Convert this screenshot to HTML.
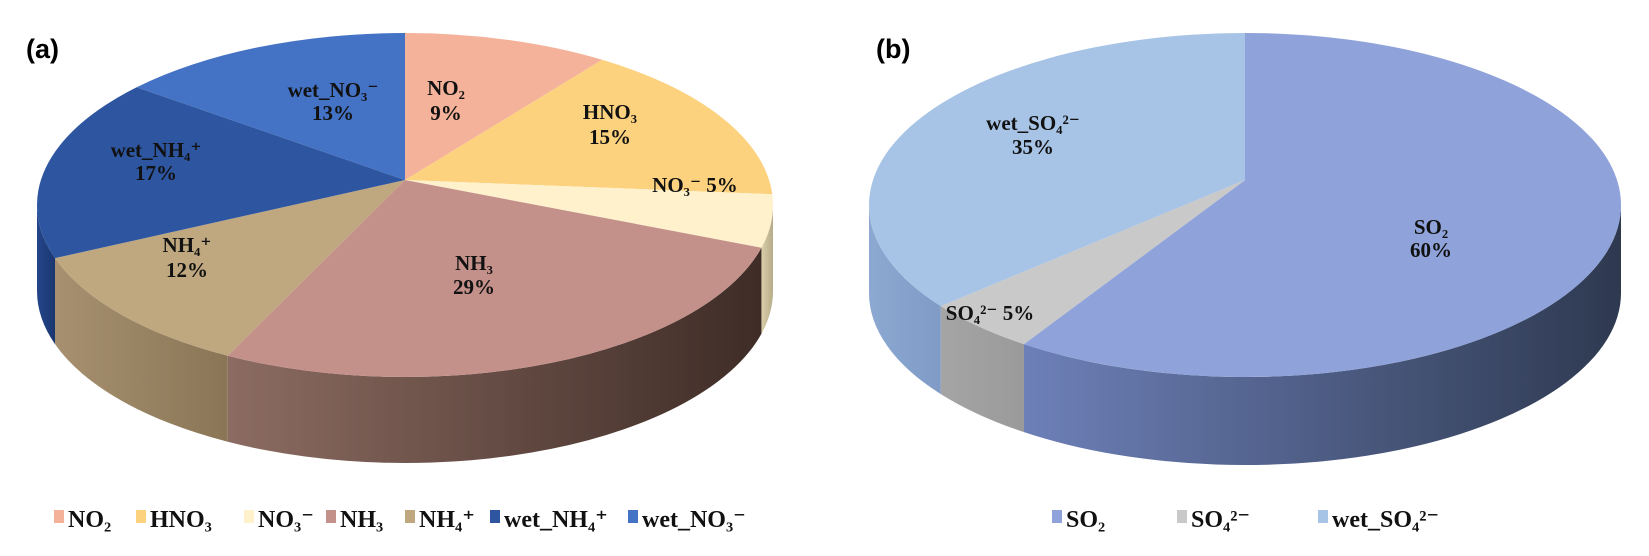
<!DOCTYPE html>
<html><head><meta charset="utf-8"><style>
html,body{margin:0;padding:0;background:#fff;}
svg{display:block;}
.lbl{font-family:"Liberation Serif","DejaVu Serif",serif;font-weight:bold;font-size:21px;fill:#111;text-anchor:middle;}
.leg{font-family:"Liberation Serif","DejaVu Serif",serif;font-weight:bold;font-size:24px;fill:#111;}
.ttl{font-family:"Liberation Sans",sans-serif;font-weight:bold;font-size:27px;fill:#000;}
</style></head><body>
<svg id="chart" width="1649" height="556" viewBox="0 0 1649 556" xmlns="http://www.w3.org/2000/svg">
<defs id="defs"></defs>
<text class="ttl" x="26" y="58">(a)</text>
<text class="ttl" x="876" y="58">(b)</text>
<g id="pieA"></g>
<g id="pieB"></g>
<g>
<text class="lbl" x="446" y="95">NO₂</text><text class="lbl" x="446" y="120">9%</text>
<text class="lbl" x="610" y="119">HNO₃</text><text class="lbl" x="610" y="144">15%</text>
<text class="lbl" x="695" y="192">NO₃⁻ 5%</text>
<text class="lbl" x="474" y="270">NH₃</text><text class="lbl" x="474" y="294">29%</text>
<text class="lbl" x="187" y="252">NH₄⁺</text><text class="lbl" x="187" y="277">12%</text>
<text class="lbl" x="156" y="157">wet_NH₄⁺</text><text class="lbl" x="156" y="180">17%</text>
<text class="lbl" x="333" y="97">wet_NO₃⁻</text><text class="lbl" x="333" y="120">13%</text>
</g>
<g>
<text class="lbl" x="1033" y="130">wet_SO₄²⁻</text><text class="lbl" x="1033" y="154">35%</text>
<text class="lbl" x="1431" y="234">SO₂</text><text class="lbl" x="1431" y="257">60%</text>
<text class="lbl" x="990" y="320">SO₄²⁻ 5%</text>
</g>
<g id="legA"></g>
<g id="legB"></g>
</svg>
<script>
const catsA = ["NO₂","HNO₃","NO₃⁻","NH₃","NH₄⁺","wet_NH₄⁺","wet_NO₃⁻"];
const valsA = [9,15,5,29,12,17,13];
const topColA = ["#F4B29A","#FDD27F","#FEF1CC","#C4918A","#BFA77F","#2E56A0","#4472C4"];
const sideColA = [["#C88D78","#9A6B5A"],["#D0A860","#A8833F"],["#D9CFA8","#B6AB88"],["#8C6C62","#3E2C26"],["#A69070","#8A7656"],["#24468A","#1A3670"],["#3A63AE","#2D4F90"]];
const catsB = ["SO₂","SO₄²⁻","wet_SO₄²⁻"];
const valsB = [60,5,35];
const topColB = ["#8FA3DA","#C9C9C9","#A7C4E6"];
const sideColB = [["#6D80B8","#2E3950"],["#A5A5A5","#9A9A9A"],["#8CA9D2","#7F9BC6"]];
const legXA = [54,136,244,326,405,490,628];
const legXB = [1052,1177,1318];

const NS="http://www.w3.org/2000/svg";
const defs=document.getElementById('defs');
function mk(t,a){const e=document.createElementNS(NS,t);for(const k in a)e.setAttribute(k,a[k]);return e;}
function drawPie(g,id,vals,topC,sideC,cx,cy,rx,ry,ay,depth){
  const P=(a,dy=0)=>[cx+rx*Math.sin(a),cy-ry*Math.cos(a)+dy];
  const total=vals.reduce((s,v)=>s+v,0);
  let acc=0;const ang=[];
  vals.forEach(v=>{const a0=acc/total*2*Math.PI;acc+=v;ang.push([a0,acc/total*2*Math.PI]);});
  ang.forEach(([a0,a1],i)=>{
    const s=Math.max(a0,Math.PI/2),e=Math.min(a1,1.5*Math.PI);
    if(e<=s)return;
    const gid=id+'g'+i;
    const gr=mk('linearGradient',{id:gid,x1:'0',y1:'0',x2:'1',y2:'0'});
    gr.appendChild(mk('stop',{offset:'0','stop-color':sideC[i][0]}));
    gr.appendChild(mk('stop',{offset:'1','stop-color':sideC[i][1]}));
    defs.appendChild(gr);
    const p0=P(s),p1=P(e),q1=P(e,depth),q0=P(s,depth);
    const lg=(e-s)>Math.PI?1:0;
    const d=`M${p0[0]},${p0[1]} A${rx},${ry} 0 ${lg} 1 ${p1[0]},${p1[1]} L${q1[0]},${q1[1]} A${rx},${ry} 0 ${lg} 0 ${q0[0]},${q0[1]} Z`;
    const el=mk('path',{d:d,fill:`url(#${gid})`});
    
    
    g.appendChild(el);
  });
  ang.forEach(([a0,a1],i)=>{
    const p0=P(a0),p1=P(a1);const lg=(a1-a0)>Math.PI?1:0;
    const el=mk('path',{d:`M${cx},${ay} L${p0[0]},${p0[1]} A${rx},${ry} 0 ${lg} 1 ${p1[0]},${p1[1]} Z`,fill:topC[i]});
    
    
    g.appendChild(el);
  });
}
drawPie(document.getElementById('pieA'),'a',valsA,topColA,sideColA,405,205,368,172,180,86);
drawPie(document.getElementById('pieB'),'b',valsB,topColB,sideColB,1245,205,376,172,180,88);
function legend(g,cats,cols,xs,y){
  cats.forEach((c,i)=>{
    const r=mk('rect',{x:xs[i],y:y-17,width:10,height:13,fill:cols[i]});
    
    
    g.appendChild(r);
    const t=mk('text',{x:xs[i]+14,y:y,class:'leg'});t.textContent=c;
    
    
    g.appendChild(t);
  });
}
legend(document.getElementById('legA'),catsA,topColA,legXA,527);
legend(document.getElementById('legB'),catsB,topColB,legXB,527);
</script>
</body></html>
